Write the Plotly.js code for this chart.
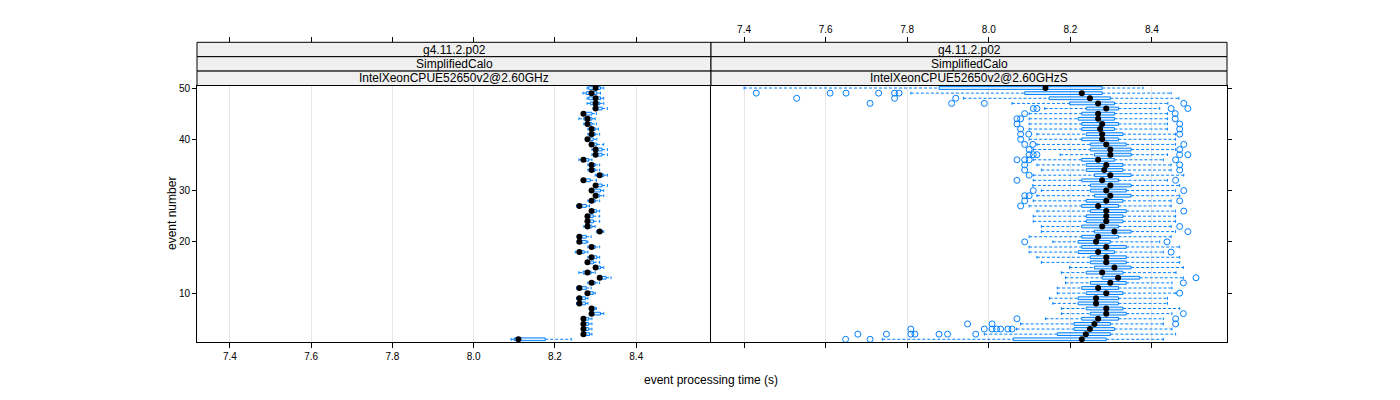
<!DOCTYPE html>
<html>
<head>
<meta charset="utf-8">
<script src="https://cdn.plot.ly/plotly-3.0.1.min.js"></script>
<style>html,body{margin:0;padding:0;background:#fff;}#chart{width:1400px;height:400px;}</style>
</head>
<body>
<div id="chart"></div>
<script>
// ---------- data ----------
const events = [1,2,3,4,5,6,7,8,9,10,11,12,13,14,15,16,17,18,19,20,21,22,23,24,25,26,27,28,29,30,31,32,33,34,35,36,37,38,39,40,41,42,43,44,45,46,47,48,49,50];
const xTicks = [7.4, 7.6, 7.8, 8.0, 8.2, 8.4];
const yTicks = [10, 20, 30, 40, 50];
const stripLabels = ["g4.11.2.p02", "SimplifiedCalo"];
const panelNames = ["IntelXeonCPUE52650v2@2.60GHz", "IntelXeonCPUE52650v2@2.60GHzS"];

// left panel (event 1..50)
const leftLo  = [8.092,8.267,8.267,8.267,8.267,8.285,8.285,8.253,8.253,8.275,8.253,8.281,8.305,8.259,8.295,8.275,8.281,8.250,8.281,8.255,8.255,8.302,8.271,8.275,8.275,8.285,8.253,8.281,8.295,8.285,8.295,8.267,8.299,8.281,8.281,8.259,8.291,8.291,8.285,8.275,8.281,8.281,8.271,8.259,8.266,8.294,8.279,8.279,8.269,8.279];
const leftQ1  = [8.100,8.268,8.268,8.268,8.268,8.288,8.288,8.256,8.256,8.277,8.257,8.285,8.307,8.269,8.297,8.277,8.285,8.256,8.285,8.257,8.257,8.305,8.277,8.277,8.277,8.287,8.257,8.285,8.296,8.287,8.297,8.268,8.303,8.285,8.285,8.266,8.295,8.295,8.287,8.277,8.285,8.285,8.277,8.271,8.267,8.297,8.287,8.283,8.277,8.283];
const leftMed = [8.110,8.270,8.270,8.270,8.270,8.290,8.290,8.260,8.260,8.280,8.260,8.290,8.310,8.280,8.300,8.280,8.290,8.260,8.290,8.260,8.260,8.310,8.280,8.280,8.280,8.290,8.260,8.290,8.300,8.290,8.300,8.270,8.310,8.290,8.290,8.270,8.300,8.300,8.290,8.280,8.290,8.290,8.280,8.280,8.270,8.300,8.300,8.300,8.290,8.300];
const leftQ3  = [8.176,8.285,8.283,8.283,8.283,8.312,8.299,8.275,8.275,8.294,8.277,8.299,8.326,8.289,8.312,8.295,8.303,8.272,8.299,8.277,8.277,8.316,8.291,8.295,8.294,8.302,8.277,8.299,8.310,8.312,8.316,8.287,8.320,8.299,8.299,8.283,8.316,8.316,8.303,8.294,8.299,8.299,8.291,8.291,8.291,8.316,8.310,8.312,8.303,8.312];
const leftHi  = [8.240,8.291,8.291,8.291,8.291,8.320,8.302,8.281,8.281,8.299,8.289,8.310,8.338,8.299,8.320,8.310,8.310,8.281,8.310,8.281,8.289,8.320,8.299,8.310,8.310,8.310,8.285,8.310,8.320,8.320,8.329,8.302,8.329,8.310,8.310,8.291,8.329,8.329,8.320,8.303,8.310,8.307,8.302,8.299,8.302,8.329,8.320,8.320,8.312,8.320];
const leftOut = [[],[],[],[],[],[],[],[],[],[],[],[],[],[],[],[],[],[],[],[],[],[],[],[],[],[],[],[],[],[],[],[],[],[],[],[],[],[],[],[],[],[],[],[],[],[],[],[],[],[]];

// right panel (event 1..50)
const rightLo  = [7.739,7.989,8.068,8.078,8.139,8.178,8.178,8.157,8.149,8.168,8.168,8.188,8.188,8.178,8.198,8.129,8.118,8.099,8.099,8.157,8.099,8.129,8.129,8.109,8.109,8.118,8.099,8.109,8.118,8.129,8.108,8.109,8.109,8.129,8.118,8.109,8.175,8.109,8.118,8.099,8.118,8.099,8.099,8.099,8.099,8.137,8.057,7.938,7.809,7.400];
const rightQ1  = [8.060,8.168,8.209,8.209,8.228,8.249,8.239,8.219,8.219,8.239,8.228,8.249,8.278,8.239,8.259,8.249,8.249,8.219,8.228,8.219,8.228,8.259,8.228,8.239,8.239,8.249,8.228,8.239,8.259,8.249,8.249,8.228,8.259,8.239,8.239,8.228,8.259,8.249,8.249,8.228,8.239,8.228,8.228,8.219,8.228,8.239,8.198,8.148,8.088,7.878];
const rightMed = [8.228,8.238,8.248,8.259,8.268,8.288,8.288,8.263,8.263,8.288,8.268,8.298,8.317,8.278,8.308,8.288,8.288,8.268,8.288,8.263,8.268,8.308,8.278,8.288,8.288,8.288,8.268,8.288,8.298,8.288,8.298,8.278,8.298,8.283,8.288,8.268,8.298,8.298,8.288,8.278,8.278,8.273,8.278,8.268,8.268,8.288,8.268,8.248,8.228,8.139];
const rightQ3  = [8.288,8.298,8.308,8.298,8.318,8.337,8.329,8.318,8.318,8.329,8.318,8.337,8.370,8.329,8.349,8.337,8.337,8.308,8.337,8.298,8.318,8.349,8.318,8.329,8.329,8.337,8.318,8.329,8.349,8.337,8.349,8.318,8.349,8.329,8.329,8.308,8.349,8.349,8.337,8.318,8.329,8.308,8.318,8.308,8.308,8.318,8.308,8.298,8.278,8.278];
const rightHi  = [8.428,8.458,8.449,8.428,8.428,8.449,8.468,8.438,8.438,8.459,8.449,8.449,8.477,8.459,8.477,8.468,8.468,8.428,8.468,8.419,8.447,8.458,8.447,8.458,8.458,8.458,8.447,8.447,8.468,8.458,8.468,8.438,8.478,8.447,8.447,8.428,8.438,8.458,8.458,8.458,8.458,8.438,8.438,8.438,8.438,8.419,8.439,8.466,8.447,8.378];
const rightOut = [
  [7.649,7.709],
  [7.679,7.749,7.809,7.819,7.878,7.899,7.968],
  [7.809,7.989,8.008,8.019,8.029,8.047,8.057],
  [7.948,8.008,8.458],
  [8.069,8.458],
  [8.477],
  [],[],[],
  [8.468],
  [],
  [8.477],
  [8.508],
  [],[],[],[],
  [8.447],
  [],
  [8.088,8.437],
  [],
  [8.488],
  [8.468],
  [],[],
  [8.478],
  [8.078],
  [8.088,8.468],
  [8.088,8.099],
  [8.109,8.478],
  [],
  [8.069,8.458],
  [8.099],
  [8.088,8.468],
  [8.088,8.468],
  [8.069,8.088,8.099,8.458],
  [8.099,8.109,8.118,8.468,8.488],
  [8.099,8.468],
  [8.088,8.108,8.478],
  [8.078],
  [8.078,8.098,8.468],
  [8.078,8.468],
  [8.069,8.468],
  [8.069,8.078,8.457],
  [8.088,8.457],
  [8.109,8.118,8.447,8.488],
  [7.709,7.909,7.989,8.478],
  [7.529,7.769,7.919],
  [7.430,7.611,7.650,7.730,7.769,7.780],
  []
];

// ---------- style ----------
const BLUE = '#0080ff';
const HALF = 0.27;          // half box height (event units)
const XRANGE = [7.319, 8.584];
const YRANGE = [0.47, 50.49];

function panelTraces(lo, q1, med, q3, hi, outs, xa, ya) {
  const bx = [], by = [], wx = [], wy = [], cx = [], cy = [], ox = [], oy = [];
  events.forEach((e, i) => {
    bx.push(q1[i], q3[i], q3[i], q1[i], q1[i], null);
    by.push(e - HALF, e - HALF, e + HALF, e + HALF, e - HALF, null);
    wx.push(lo[i], q1[i], null, q3[i], hi[i], null);
    wy.push(e, e, null, e, e, null);
    cx.push(lo[i], lo[i], null, hi[i], hi[i], null);
    cy.push(e - HALF, e + HALF, null, e - HALF, e + HALF, null);
    outs[i].forEach(v => { ox.push(v); oy.push(e); });
  });
  return [
    {type:'scatter', mode:'lines', x:wx, y:wy, xaxis:xa, yaxis:ya, hoverinfo:'skip',
     line:{color:BLUE, width:1, dash:'3px,2px'}, connectgaps:false},
    {type:'scatter', mode:'lines', x:cx, y:cy, xaxis:xa, yaxis:ya, hoverinfo:'skip',
     line:{color:BLUE, width:1}, connectgaps:false},
    {type:'scatter', mode:'lines', x:bx, y:by, xaxis:xa, yaxis:ya, hoverinfo:'skip',
     fill:'toself', fillcolor:'rgba(0,128,255,0.12)',
     line:{color:BLUE, width:1}, connectgaps:false},
    {type:'scatter', mode:'markers', x:ox, y:oy, xaxis:xa, yaxis:ya, hoverinfo:'skip',
     marker:{symbol:'circle-open', size:6, color:BLUE, line:{width:1, color:BLUE}}},
    {type:'scatter', mode:'markers', x:med, y:events, xaxis:xa, yaxis:ya, hoverinfo:'skip',
     marker:{symbol:'circle', size:6, color:'black'}}
  ];
}

// invisible carriers so the top (overlaying) axes get drawn
const carriers = [
  {type:'scatter', mode:'markers', x:[xTicks[3]], y:[yTicks[2]], xaxis:'x3', yaxis:'y',
   marker:{opacity:0}, hoverinfo:'skip'},
  {type:'scatter', mode:'markers', x:[xTicks[3]], y:[yTicks[2]], xaxis:'x4', yaxis:'y2',
   marker:{opacity:0}, hoverinfo:'skip'}
];

const data = [].concat(
  panelTraces(leftLo, leftQ1, leftMed, leftQ3, leftHi, leftOut, 'x', 'y'),
  panelTraces(rightLo, rightQ1, rightMed, rightQ3, rightHi, rightOut, 'x2', 'y2'),
  carriers
);

// geometry (paper fractions)
const W = 1400, H = 400;
const pxX = p => p / W;
const pxY = p => 1 - p / H;
const colEdges = [pxX(197), pxX(711), pxX(1227)];
const yDom = [pxY(342), pxY(85.5)];
const stripEdges = [pxY(85.5), pxY(71.1), pxY(56.7), pxY(42.3)];

const tickFont = {family:'Liberation Sans, Arial, sans-serif', size:10, color:'black'};
function baseX(dom, anchor, labels) {
  return {domain:dom, anchor:anchor, range:XRANGE, tickmode:'array', tickvals:xTicks,
    ticktext:xTicks.map(v => v.toFixed(1)), showticklabels:labels,
    ticks:'outside', ticklen:5, tickcolor:'black', tickwidth:1, tickfont:tickFont,
    showline:true, linecolor:'black', linewidth:1, mirror:true,
    showgrid:true, gridcolor:'#e6e6e6', gridwidth:1, zeroline:false, fixedrange:true};
}
function topX(over, labels) {
  return {overlaying:over, anchor:'free', position:stripEdges[3], side:'top', range:XRANGE,
    tickmode:'array', tickvals:xTicks, ticktext:xTicks.map(v => v.toFixed(1)),
    showticklabels:labels, ticks:'outside', ticklen:5, tickcolor:'black', tickwidth:1,
    tickfont:tickFont, showline:false, showgrid:false, zeroline:false, fixedrange:true};
}

const shapes = [];
const annotations = [];
[0, 1].forEach(c => {
  const x0 = colEdges[c], x1 = colEdges[c + 1];
  const texts = [stripLabels[0], stripLabels[1], panelNames[c]];
  for (let r = 0; r < 3; r++) {
    const yTop = stripEdges[3 - r], yBot = stripEdges[2 - r];
    shapes.push({type:'rect', xref:'paper', yref:'paper', x0:x0, x1:x1, y0:yBot, y1:yTop,
      fillcolor:'#f0f0f0', line:{color:'black', width:1}, layer:'below'});
    annotations.push({xref:'paper', yref:'paper', x:(x0 + x1) / 2, y:(yTop + yBot) / 2,
      text:texts[r], showarrow:false, xanchor:'center', yanchor:'middle',
      font:{family:'Liberation Sans, Arial, sans-serif', size:12, color:'black'}});
  }
});
annotations.push({xref:'paper', yref:'paper', x:colEdges[1], y:pxY(380), text:'event processing time (s)',
  showarrow:false, xanchor:'center', yanchor:'middle',
  font:{family:'Liberation Sans, Arial, sans-serif', size:12, color:'black'}});
annotations.push({xref:'paper', yref:'paper', x:pxX(172), y:pxY(214), text:'event number',
  showarrow:false, textangle:-90, xanchor:'center', yanchor:'middle',
  font:{family:'Liberation Sans, Arial, sans-serif', size:12, color:'black'}});

const layout = {
  width:W, height:H, margin:{l:0, r:0, t:0, b:0},
  paper_bgcolor:'white', plot_bgcolor:'white', showlegend:false,
  font:{family:'Liberation Sans, Arial, sans-serif', size:10, color:'black'},
  xaxis: baseX([colEdges[0], colEdges[1]], 'y', true),
  xaxis2: baseX([colEdges[1], colEdges[2]], 'y2', false),
  xaxis3: topX('x', false),
  xaxis4: topX('x2', true),
  yaxis: {domain:yDom, anchor:'x', range:YRANGE, tickmode:'array', tickvals:yTicks,
    ticks:'outside', ticklen:4, tickcolor:'black', tickfont:tickFont,
    showline:true, linecolor:'black', linewidth:1, mirror:false,
    showgrid:false, zeroline:false, fixedrange:true},
  yaxis2: {domain:yDom, anchor:'x2', side:'right', range:YRANGE, tickmode:'array', tickvals:yTicks,
    ticks:'outside', ticklen:4, tickcolor:'black', showticklabels:false,
    showline:true, linecolor:'black', linewidth:1, mirror:true,
    showgrid:false, zeroline:false, fixedrange:true},
  shapes:shapes,
  annotations:annotations
};

Plotly.newPlot('chart', data, layout, {staticPlot:true, displayModeBar:false});
</script>
</body>
</html>
